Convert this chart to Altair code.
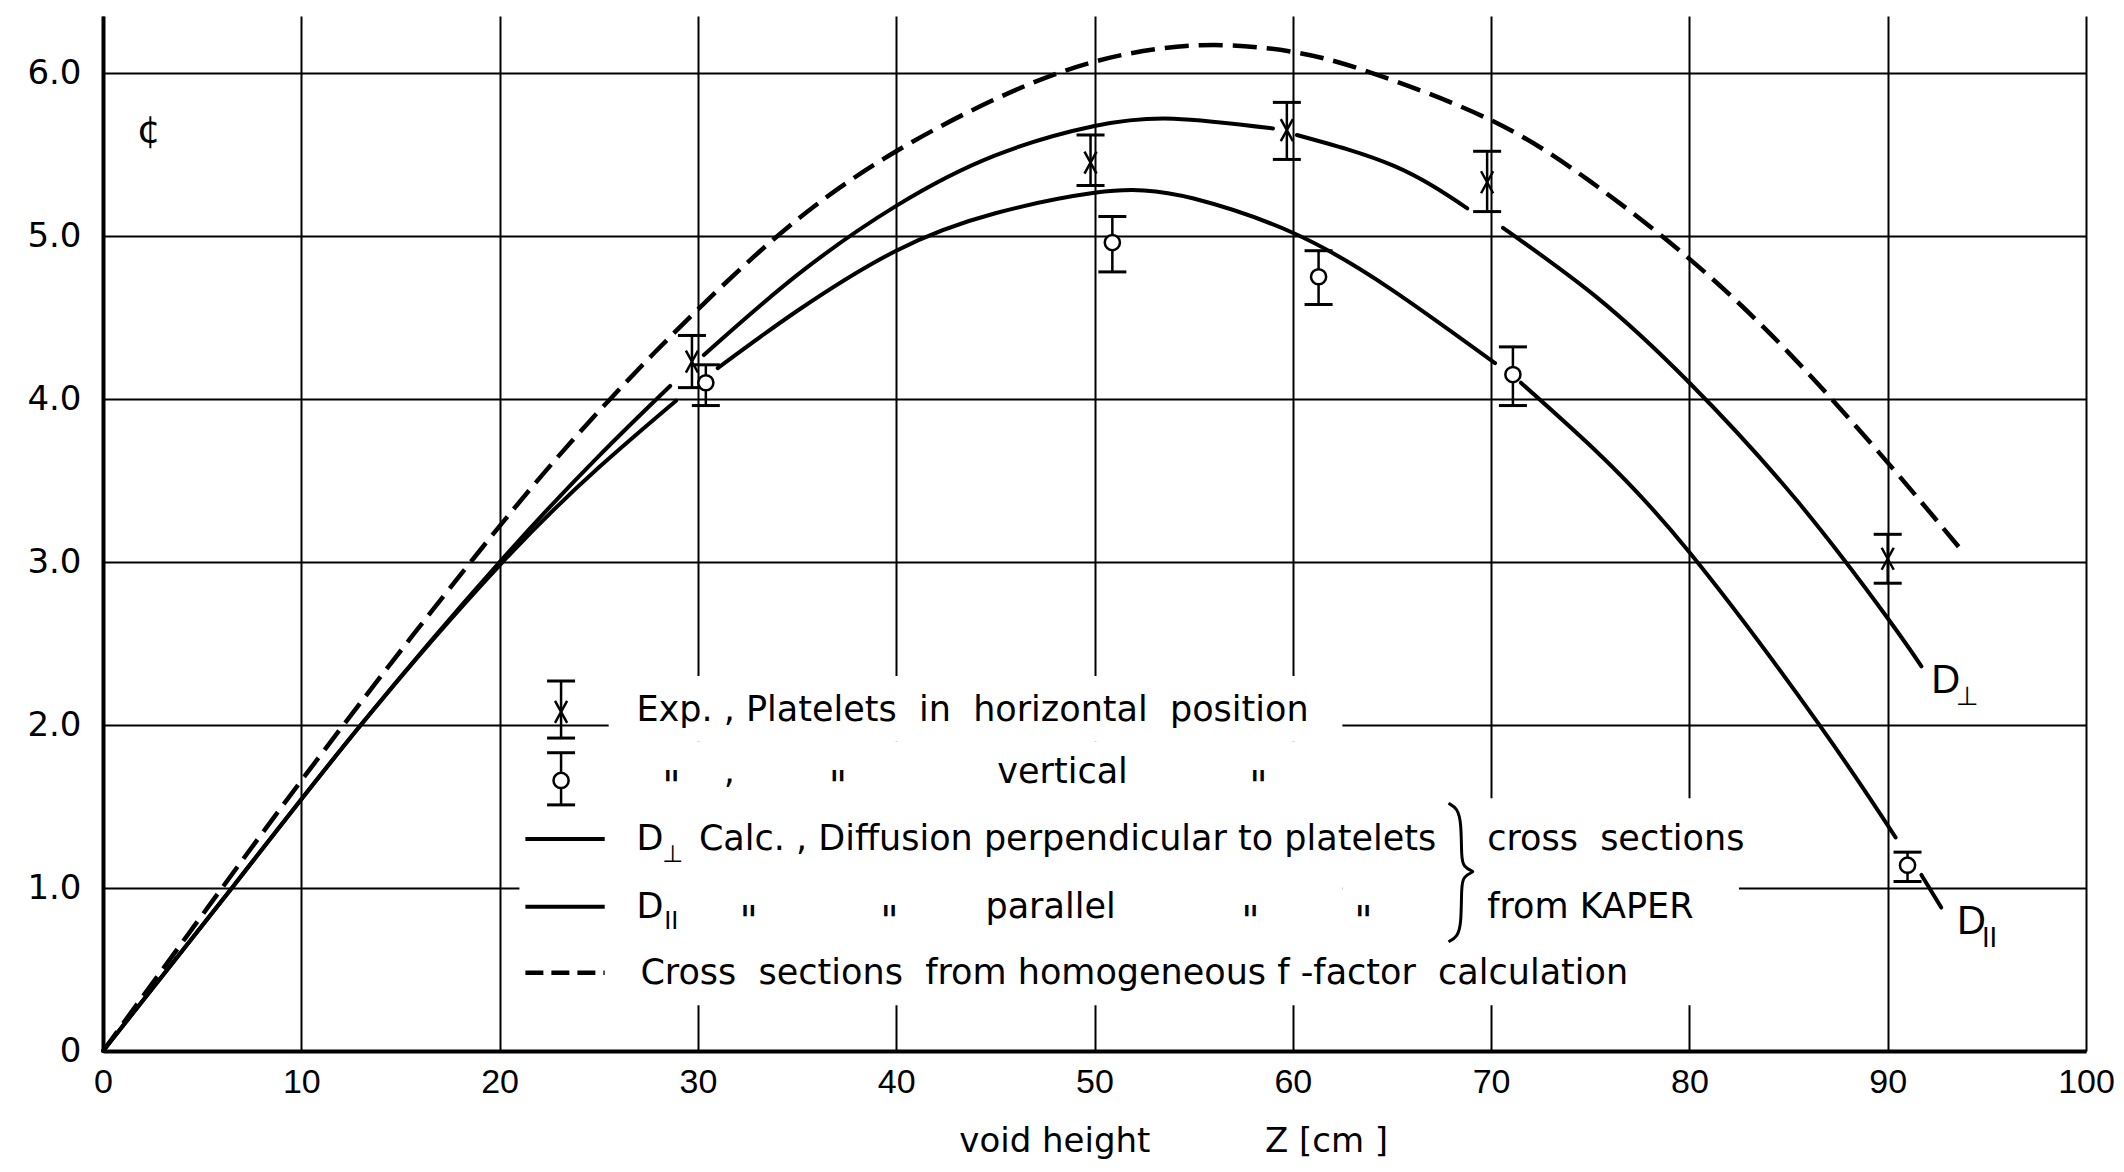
import altair as alt
import pandas as pd

# ---------------- values ----------------
# Cross sections from homogeneous f-factor calculation (dashed curve)
hom_z = [0, 6, 12, 20, 25.5, 30, 35, 40, 45, 50, 55.3, 60, 64, 70, 75, 80, 85, 90, 93.6]
hom_phi = [0, 1.0, 1.98, 3.22, 3.99, 4.55, 5.10, 5.52, 5.84, 6.07, 6.17, 6.13, 6.0,
           5.71, 5.335, 4.86, 4.285, 3.61, 3.09]

# D-perpendicular calculation (solid, drawn in pieces with gaps at the symbols)
dperp_z = [0, 6.5, 13, 20, 25, 28.6,
           30.3, 35, 40, 45, 50, 54, 59.0,
           60.2, 65.1, 68.8,
           70.6, 75.3, 80, 85.4, 90, 91.7]
dperp_phi = [0, 1.0, 2.0, 3.0, 3.65, 4.08,
             4.27, 4.76, 5.185, 5.495, 5.675, 5.72, 5.66,
             5.62, 5.43, 5.17,
             5.05, 4.627, 4.10, 3.38, 2.655, 2.36]
dperp_seg = [1] * 6 + [2] * 7 + [3] * 3 + [4] * 6

# D-parallel calculation (solid)
dpar_z = [0, 6.5, 13, 20, 25, 28.9,
          31.0, 35, 40, 45, 50, 52.5, 55, 60, 65, 70.2,
          71.5, 75.3, 80, 86.5, 90.4,
          91.7, 92.7]
dpar_phi = [0, 1.0, 2.0, 2.98, 3.58, 3.99,
            4.19, 4.54, 4.91, 5.14, 5.265, 5.28, 5.23, 5.02, 4.67, 4.22,
            4.10, 3.68, 3.06, 2.01, 1.31,
            1.08, 0.88]
dpar_seg = [1] * 6 + [2] * 10 + [3] * 5 + [4] * 2

# Experiment, platelets in horizontal position (x marks with error bars)
hor_z = [29.7, 49.8, 59.7, 69.8, 90.0]
hor_phi = [4.23, 5.45, 5.65, 5.33, 3.02]
hor_lo = [4.07, 5.31, 5.47, 5.15, 2.87]
hor_hi = [4.39, 5.62, 5.82, 5.52, 3.17]

# Experiment, platelets in vertical position (circles with error bars)
ver_z = [30.4, 50.9, 61.3, 71.1, 91.0]
ver_phi = [4.10, 4.96, 4.75, 4.15, 1.14]
ver_lo = [3.96, 4.78, 4.58, 3.96, 1.04]
ver_hi = [4.21, 5.12, 4.91, 4.32, 1.22]

x_ticks = list(range(0, 101, 10))
y_ticks = [0, 1, 2, 3, 4, 5, 6]

# ---------------- annotation placement (legend drawn inside the plot) ----------------
legend_hor = {"z": 23.1, "phi": 2.08, "lo": 1.92, "hi": 2.27}
legend_ver = {"z": 23.1, "phi": 1.66, "lo": 1.51, "hi": 1.83}
legend_lines = [  # (z0, z1, phi, style)
    (21.3, 25.3, 1.30, "solid"),
    (21.3, 25.3, 0.885, "solid"),
    (21.3, 25.3, 0.48, "dashed"),
]
legend_boxes = [  # white background behind the legend text
    (25.5, 62.5, 1.9, 2.3),
    (21.0, 62.5, 0.28, 1.9),
    (62.5, 82.5, 0.28, 1.55),
]
brace_z = [67.85, 68.3, 68.5, 68.5, 68.6, 69.1, 69.1, 68.6, 68.5, 68.5, 68.3, 67.85]
brace_phi = [1.52, 1.49, 1.40, 1.19, 1.13, 1.10, 1.10, 1.07, 1.01, 0.78, 0.70, 0.67]

NB = "\u00a0"
texts_main = [  # z, phi, text
    (26.9, 2.09, f"Exp. , Platelets{NB} in{NB} horizontal{NB} position"),
    (45.1, 1.71, "vertical"),
    (26.9, 1.30, "D"),
    (30.05, 1.30, "Calc. , Diffusion perpendicular to platelets"),
    (69.8, 1.30, f"cross{NB} sections"),
    (26.9, 0.885, "D"),
    (44.5, 0.885, "parallel"),
    (69.8, 0.885, "from KAPER"),
    (27.1, 0.48, f"Cross{NB} sections{NB} from homogeneous f -factor{NB} calculation"),
    (31.3, 1.71, ","),
]
texts_ditto = [
    (28.2, 1.71, '"'), (36.6, 1.71, '"'), (57.8, 1.71, '"'),
    (32.1, 0.885, '"'), (39.2, 0.885, '"'), (57.4, 0.885, '"'), (63.1, 0.885, '"'),
]
texts_sub_legend = [(28.2, 1.20, "\u22a5"), (28.3, 0.79, "II")]
texts_sub_curve = [(93.45, 2.17, "\u22a5"), (94.75, 0.69, "II")]
texts_big = [(92.2, 2.27, "D"), (93.5, 0.79, "D")]
phi_sym = [(1.7, 5.64, "\u00a2")]
axis_titles = [(48.0, -0.56, "void height"), (61.7, -0.56, f"Z{NB}[cm{NB}]")]

# ---------------- build tables ----------------
curves = pd.concat([
    pd.DataFrame({"z": dperp_z, "phi": dperp_phi, "key": [f"perp{s}" for s in dperp_seg]}),
    pd.DataFrame({"z": dpar_z, "phi": dpar_phi, "key": [f"par{s}" for s in dpar_seg]}),
])
hom = pd.DataFrame({"z": hom_z, "phi": hom_phi})
hor = pd.DataFrame({"z": hor_z, "phi": hor_phi, "lo": hor_lo, "hi": hor_hi})
hor = pd.concat([hor, pd.DataFrame([legend_hor])])
ver = pd.DataFrame({"z": ver_z, "phi": ver_phi, "lo": ver_lo, "hi": ver_hi})
ver = pd.concat([ver, pd.DataFrame([legend_ver])])
bars = pd.concat([hor, ver])
leg_lines = pd.DataFrame(legend_lines, columns=["z0", "z1", "phi", "style"])
boxes = pd.DataFrame(legend_boxes, columns=["z0", "z1", "p0", "p1"])
brace = pd.DataFrame({"z": brace_z, "phi": brace_phi, "i": list(range(len(brace_z)))})


def tdf(rows):
    return pd.DataFrame(rows, columns=["z", "phi", "t"])


xs = alt.Scale(domain=[0, 100], nice=False, zero=False)
ys = alt.Scale(domain=[0, 6.35], nice=False, zero=False)

FONT = "DejaVu Sans"

xaxis = alt.Axis(values=x_ticks, title=None, grid=True, gridColor="black", gridWidth=2,
                 gridOpacity=1, domainColor="black", domainWidth=4, ticks=False,
                 labelFont="Liberation Sans", labelFontSize=34, labelPadding=14,
                 labelColor="black", labelFlush=False, labelOverlap=False)
yaxis = alt.Axis(values=y_ticks, title=None, grid=True, gridColor="black", gridWidth=2,
                 gridOpacity=1, domainColor="black", domainWidth=4, ticks=False,
                 labelFont=FONT, labelFontSize=34, labelPadding=22, labelColor="black",
                 labelExpr="datum.value == 0 ? '0' : format(datum.value, '.1f')",
                 labelOverlap=False)

base_x = alt.X("z:Q", scale=xs, axis=xaxis)
base_y = alt.Y("phi:Q", scale=ys, axis=yaxis)

box_layer = alt.Chart(boxes).mark_rect(color="white", strokeWidth=0).encode(
    x=alt.X("z0:Q", scale=xs, axis=xaxis), x2="z1:Q",
    y=alt.Y("p0:Q", scale=ys, axis=yaxis), y2="p1:Q")

solid_layer = alt.Chart(curves).mark_line(color="black", strokeWidth=4, interpolate="natural",
                                          strokeCap="round").encode(
    x=base_x, y=base_y, detail="key:N")

dash_layer = alt.Chart(hom).mark_line(color="black", strokeWidth=4.5, interpolate="natural",
                                      strokeDash=[24, 10]).encode(x=base_x, y=base_y)

brace_layer = alt.Chart(brace).mark_line(color="black", strokeWidth=3, interpolate="basis").encode(
    x=alt.X("z:Q", scale=xs), y=alt.Y("phi:Q", scale=ys), order="i:Q")

leg_solid = alt.Chart(leg_lines[leg_lines["style"] == "solid"]).mark_rule(
    color="black", strokeWidth=4).encode(x=alt.X("z0:Q", scale=xs), x2="z1:Q",
                                         y=alt.Y("phi:Q", scale=ys))
leg_dash = alt.Chart(leg_lines[leg_lines["style"] == "dashed"]).mark_rule(
    color="black", strokeWidth=4.5, strokeDash=[18, 8]).encode(
    x=alt.X("z0:Q", scale=xs), x2="z1:Q", y=alt.Y("phi:Q", scale=ys))

bar_layer = alt.Chart(bars).mark_rule(color="black", strokeWidth=2.5).encode(
    x=alt.X("z:Q", scale=xs), y=alt.Y("lo:Q", scale=ys), y2="hi:Q")
cap_lo = alt.Chart(bars).mark_tick(orient="horizontal", size=28, thickness=3,
                                   color="black", opacity=1).encode(
    x=alt.X("z:Q", scale=xs), y=alt.Y("lo:Q", scale=ys))
cap_hi = alt.Chart(bars).mark_tick(orient="horizontal", size=28, thickness=3,
                                   color="black", opacity=1).encode(
    x=alt.X("z:Q", scale=xs), y=alt.Y("hi:Q", scale=ys))

x_marks = alt.Chart(hor).mark_point(shape="M-0.55,-1L0.55,1M0.55,-1L-0.55,1", size=484,
                                    filled=False, color="black", strokeWidth=2.5,
                                    opacity=1).encode(x=alt.X("z:Q", scale=xs),
                                                      y=alt.Y("phi:Q", scale=ys))
o_marks = alt.Chart(ver).mark_point(shape="circle", size=230, filled=True, fill="white",
                                    stroke="black", strokeWidth=2.5, opacity=1).encode(
    x=alt.X("z:Q", scale=xs), y=alt.Y("phi:Q", scale=ys))


def text_layer(rows, size, font=FONT, align="left", dy=0, weight="normal", style="normal"):
    return alt.Chart(tdf(rows)).mark_text(align=align, baseline="middle", fontSize=size,
                                          font=font, color="black", dy=dy,
                                          fontWeight=weight, fontStyle=style).encode(
        x=alt.X("z:Q", scale=xs), y=alt.Y("phi:Q", scale=ys), text="t:N")


layers = [
    box_layer, solid_layer, dash_layer, brace_layer, leg_solid, leg_dash, bar_layer,
    cap_lo, cap_hi, x_marks, o_marks,
    text_layer(texts_main, 35),
    text_layer(texts_ditto, 40, dy=16, style="italic"),
    text_layer(texts_sub_legend, 24),
    text_layer(texts_sub_curve, 26),
    text_layer(texts_big, 40, font="Liberation Sans"),
    text_layer(phi_sym, 38),
    text_layer(axis_titles, 34, align="center"),
]

chart = alt.layer(*layers).properties(
    width=1983, height=1035,
    autosize=alt.AutoSizeParams(type="none"),
    padding={"left": 95, "top": 8, "right": 30, "bottom": 113},
    background="white",
).configure_view(stroke=None)

chart.save("out.html", embed_options={"renderer": "svg", "actions": False})
